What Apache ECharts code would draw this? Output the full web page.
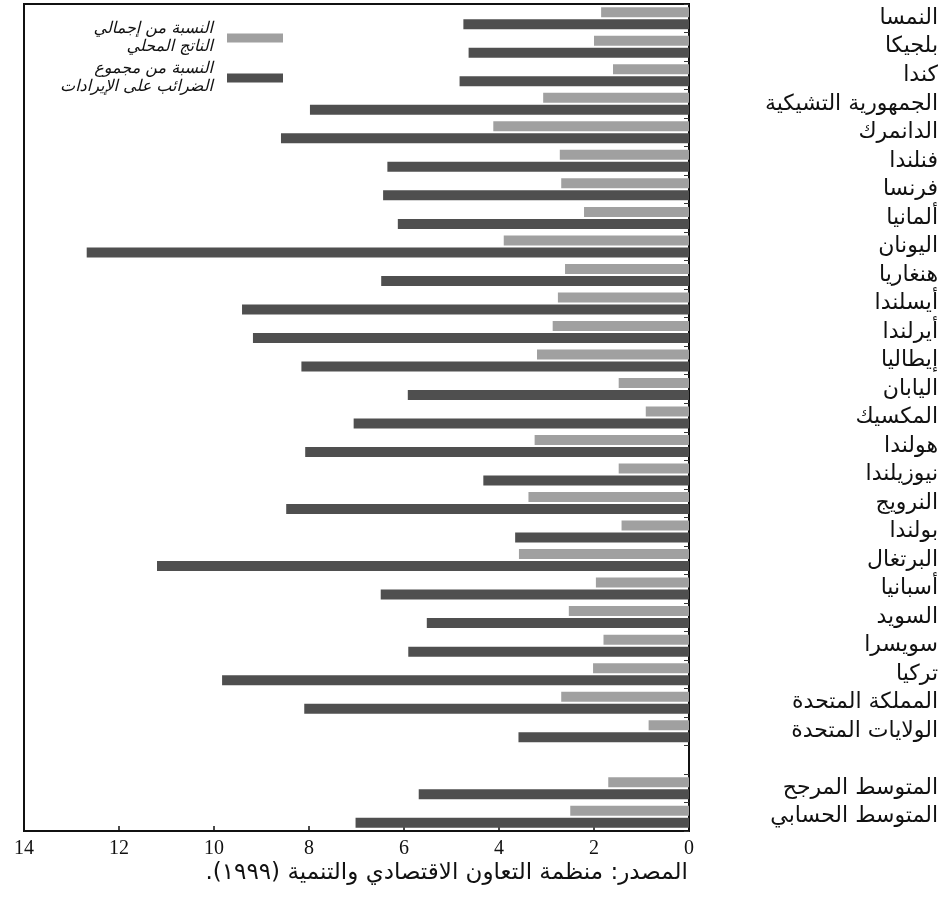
<!DOCTYPE html>
<html>
<head>
<meta charset="utf-8">
<script src="https://cdn.jsdelivr.net/npm/echarts@6/dist/echarts.min.js"></script>
<style>
html,body{margin:0;padding:0;background:#fff;}
#chart{width:944px;height:900px;}
</style>
</head>
<body>
<div id="chart"></div>
<script>
var categories = [
  'النمسا','بلجيكا','كندا','الجمهورية التشيكية','الدانمرك','فنلندا','فرنسا','ألمانيا',
  'اليونان','هنغاريا','أيسلندا','أيرلندا','إيطاليا','اليابان','المكسيك','هولندا',
  'نيوزيلندا','النرويج','بولندا','البرتغال','أسبانيا','السويد','سويسرا','تركيا',
  'المملكة المتحدة','الولايات المتحدة','','المتوسط المرجح','المتوسط الحسابي'
];
var gdpShare = [
  1.85, 2.0, 1.6, 3.07, 4.12, 2.72, 2.69, 2.21,
  3.9, 2.61, 2.76, 2.87, 3.2, 1.48, 0.91, 3.25,
  1.48, 3.38, 1.42, 3.58, 1.96, 2.53, 1.8, 2.02,
  2.69, 0.85, null, 1.7, 2.5
];
var taxShare = [
  4.75, 4.64, 4.83, 7.98, 8.59, 6.35, 6.44, 6.13,
  12.68, 6.48, 9.41, 9.18, 8.16, 5.92, 7.06, 8.08,
  4.33, 8.48, 3.66, 11.2, 6.49, 5.52, 5.91, 9.83,
  8.1, 3.59, null, 5.69, 7.02
];
var seriesNames = ['النسبة من إجمالي\nالناتج المحلي', 'النسبة من مجموع\nالضرائب على الإيرادات'];
var sourceText = 'المصدر: منظمة التعاون الاقتصادي والتنمية (١٩٩٩).';

var chart = echarts.init(document.getElementById('chart'), null, {renderer: 'canvas'});
chart.setOption({
  backgroundColor: '#ffffff',
  animation: false,
  grid: {left: 24, right: 255, top: 4, bottom: 69, show: true, borderColor: '#111', borderWidth: 2, containLabel: false},
  legend: {
    data: seriesNames,
    orient: 'vertical',
    right: 656,
    top: 15,
    align: 'right',
    itemWidth: 56,
    itemHeight: 9,
    itemGap: 4,
    icon: 'rect',
    textStyle: {fontFamily: 'DejaVu Sans', fontStyle: 'italic', fontSize: 16, lineHeight: 18, color: '#111', padding: [0, 9, 0, 0]}
  },
  xAxis: {
    type: 'value', min: 0, max: 14, interval: 2, inverse: true,
    axisLine: {show: true, lineStyle: {color: '#111', width: 2}},
    axisTick: {show: true, inside: true, length: 5, lineStyle: {color: '#111', width: 1.5}},
    axisLabel: {fontFamily: 'Liberation Serif', fontSize: 20, color: '#111', margin: 8},
    splitLine: {show: false}
  },
  yAxis: {
    type: 'category', data: categories, inverse: true, position: 'right',
    axisLine: {show: true, lineStyle: {color: '#111', width: 2}},
    axisTick: {show: true, inside: true, length: 5, lineStyle: {color: '#333', width: 1}},
    axisLabel: {fontFamily: 'DejaVu Sans', fontSize: 22, color: '#111', align: 'right', margin: 249, interval: 0}
  },
  series: [
    {name: seriesNames[0], type: 'bar', data: gdpShare, barWidth: 10, barGap: '20%',
     itemStyle: {color: '#a0a0a0'}},
    {name: seriesNames[1], type: 'bar', data: taxShare, barWidth: 10, barGap: '20%',
     itemStyle: {color: '#4f4f4f'}}
  ],
  graphic: [
    {type: 'text', right: 256, top: 862, style: {text: '\u202B' + sourceText + '\u202C', fontFamily: 'DejaVu Sans', fontSize: 23, fill: '#111', textAlign: 'right'}}
  ]
});
</script>
</body>
</html>
